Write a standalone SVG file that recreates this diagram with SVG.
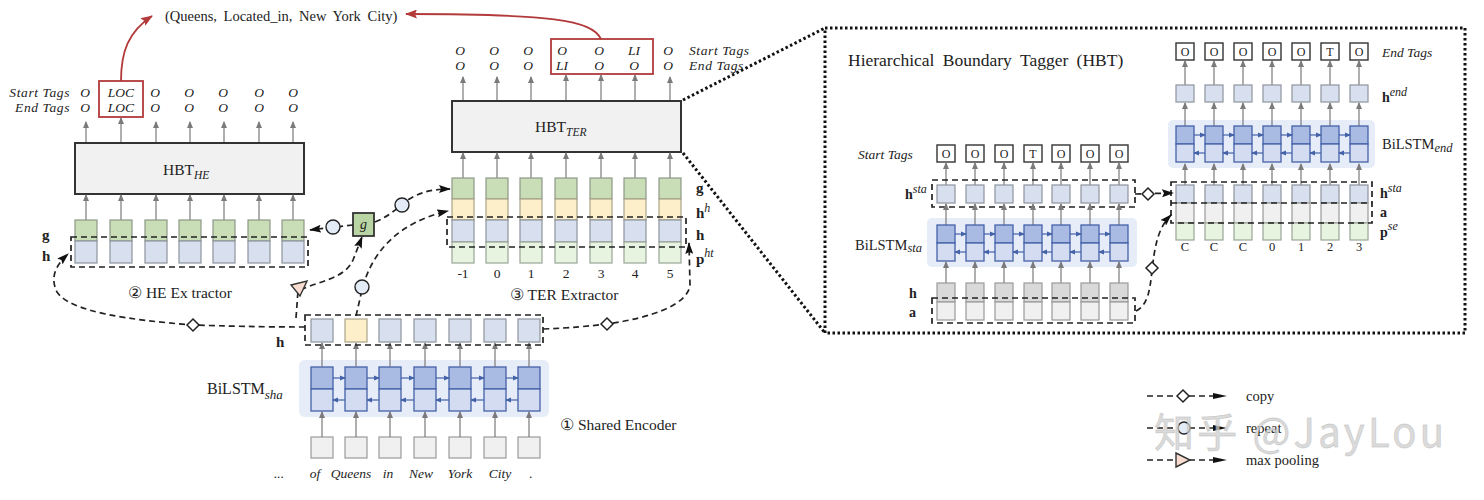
<svg xmlns="http://www.w3.org/2000/svg" width="1484" height="500" viewBox="0 0 1484 500">
<style>
.t{font-family:"Liberation Serif","Times New Roman",serif;fill:#222}
.it{font-style:italic}
.b{font-weight:bold}
.cg{fill:#c9ddb6;stroke:#8e9888;stroke-width:1.2}
.cb{fill:#d8e0f0;stroke:#8e949e;stroke-width:1.2}
.cy{fill:#fcefc9;stroke:#aaa38b;stroke-width:1.2}
.cp{fill:#e7f5e0;stroke:#9aa596;stroke-width:1.2}
.cw{fill:#f0f0f0;stroke:#9a9a9a;stroke-width:1.2}
.cd{fill:#d9d9d9;stroke:#9a9a9a;stroke-width:1.2}
.lt{fill:#a9bbe2;stroke:#4462a8;stroke-width:1.3}
.lb{fill:#d3dcf0;stroke:#4462a8;stroke-width:1.3}
.bg{fill:#e7ecf9}
.ar{stroke:#7a7a7a;stroke-width:1.2;marker-end:url(#ga)}
.la{stroke:#4462a8;stroke-width:1.2;marker-end:url(#ba)}
.dl{fill:none;stroke:#222;stroke-width:1.7;stroke-dasharray:6 4}
.dot{fill:none;stroke:#111;stroke-width:3;stroke-dasharray:2.5 2.5}
.box{fill:#f1f1f1;stroke:#333;stroke-width:2}
.tb{fill:#fff;stroke:#333;stroke-width:1.4}
.red{fill:none;stroke:#b23a3a;stroke-width:1.8}
.dia{fill:#fff;stroke:#222;stroke-width:1.5}
.cir{fill:#e3ebf7;stroke:#222;stroke-width:1.4}
</style>
<defs>
<marker id="ga" markerUnits="userSpaceOnUse" markerWidth="7" markerHeight="6" refX="6" refY="3" orient="auto"><path d="M0,0 L7,3 L0,6 z" fill="#7a7a7a"/></marker>
<marker id="ba" markerUnits="userSpaceOnUse" markerWidth="6" markerHeight="6" refX="5" refY="3" orient="auto"><path d="M0,0.5 L6,3 L0,5.5 z" fill="#4462a8"/></marker>
<marker id="ka" markerUnits="userSpaceOnUse" markerWidth="12" markerHeight="8" refX="11" refY="4" orient="auto"><path d="M0,0 L12,4 L0,8 L2,4 z" fill="#111"/></marker>
<marker id="ra" markerUnits="userSpaceOnUse" markerWidth="12" markerHeight="9" refX="11" refY="4.5" orient="auto"><path d="M0,0 L12,4.5 L0,9 L2,4.5 z" fill="#b23a3a"/></marker>
<g id="lA"><rect class="lt" x="0" y="0" width="22" height="22"/><rect class="lb" x="0" y="22" width="22" height="22"/></g>
<g id="lB"><rect class="lt" x="0" y="0" width="18" height="18"/><rect class="lb" x="0" y="18" width="18" height="18"/></g>
</defs>
<rect width="1484" height="500" fill="#fff"/>

<g id="relation">
<text class="t" x="165" y="21" font-size="14.5" word-spacing="3">(Queens, Located_in, New York City)</text>
</g>

<g id="he-extractor">
<text class="t it" x="70" y="97" font-size="13.5" text-anchor="end" letter-spacing="0.6">Start Tags</text>
<text class="t it" x="70" y="112" font-size="13.5" text-anchor="end" letter-spacing="0.6">End Tags</text>
<g class="t it" font-size="13.5" text-anchor="middle">
<text x="85" y="97">O</text><text x="121" y="97">LOC</text><text x="155" y="97">O</text><text x="189" y="97">O</text><text x="223" y="97">O</text><text x="259" y="97">O</text><text x="293" y="97">O</text>
<text x="85" y="112">O</text><text x="121" y="112">LOC</text><text x="155" y="112">O</text><text x="189" y="112">O</text><text x="223" y="112">O</text><text x="259" y="112">O</text><text x="293" y="112">O</text>
</g>
<rect class="red" x="99" y="81" width="44" height="36"/>
<line class="ar" x1="86" y1="143" x2="86" y2="122"/><line class="ar" x1="121" y1="143" x2="121" y2="118"/><line class="ar" x1="156" y1="143" x2="156" y2="122"/><line class="ar" x1="190" y1="143" x2="190" y2="122"/><line class="ar" x1="224" y1="143" x2="224" y2="122"/><line class="ar" x1="259" y1="143" x2="259" y2="122"/><line class="ar" x1="293" y1="143" x2="293" y2="122"/>
<rect class="box" x="75" y="143" width="229" height="51"/>
<text class="t" x="163" y="175" font-size="15.5">HBT<tspan class="it" font-size="11.5" dy="4">HE</tspan></text>
<line class="ar" x1="86" y1="220" x2="86" y2="195"/><line class="ar" x1="121" y1="220" x2="121" y2="195"/><line class="ar" x1="156" y1="220" x2="156" y2="195"/><line class="ar" x1="190" y1="220" x2="190" y2="195"/><line class="ar" x1="224" y1="220" x2="224" y2="195"/><line class="ar" x1="259" y1="220" x2="259" y2="195"/><line class="ar" x1="293" y1="220" x2="293" y2="195"/>
<rect class="cg" x="75" y="220" width="22" height="21"/><rect class="cb" x="75" y="241" width="22" height="22"/>
<rect class="cg" x="110" y="220" width="22" height="21"/><rect class="cb" x="110" y="241" width="22" height="22"/>
<rect class="cg" x="145" y="220" width="22" height="21"/><rect class="cb" x="145" y="241" width="22" height="22"/>
<rect class="cg" x="179" y="220" width="22" height="21"/><rect class="cb" x="179" y="241" width="22" height="22"/>
<rect class="cg" x="213" y="220" width="22" height="21"/><rect class="cb" x="213" y="241" width="22" height="22"/>
<rect class="cg" x="248" y="220" width="22" height="21"/><rect class="cb" x="248" y="241" width="22" height="22"/>
<rect class="cg" x="282" y="220" width="22" height="21"/><rect class="cb" x="282" y="241" width="22" height="22"/>
<rect class="dl" x="71" y="237" width="237" height="30"/>
<text class="t b" x="42" y="240" font-size="15">g</text>
<text class="t b" x="42" y="261" font-size="15">h</text>
<text class="t" x="128" y="298" font-size="15.5">② HE Ex tractor</text>
</g>

<g id="g-node">
<rect x="353" y="213" width="21" height="23" fill="#b9d5a4" stroke="#333" stroke-width="1.8"/>
<text class="t it" x="363.5" y="229" font-size="14" text-anchor="middle">g</text>
</g>

<g id="ter-extractor">
<g class="t it" font-size="13.5" text-anchor="middle">
<text x="460" y="55">O</text><text x="494" y="55">O</text><text x="528" y="55">O</text><text x="562" y="55">O</text><text x="599" y="55">O</text><text x="634" y="55">LI</text><text x="668" y="55">O</text>
<text x="460" y="70">O</text><text x="494" y="70">O</text><text x="528" y="70">O</text><text x="562" y="70">LI</text><text x="599" y="70">O</text><text x="634" y="70">O</text><text x="668" y="70">O</text>
</g>
<rect class="red" x="551" y="39" width="102" height="35"/>
<text class="t it" x="689" y="55" font-size="13.5" letter-spacing="0.6">Start Tags</text>
<text class="t it" x="689" y="70" font-size="13.5" letter-spacing="0.6">End Tags</text>
<line class="ar" x1="463" y1="101" x2="463" y2="77"/><line class="ar" x1="497" y1="101" x2="497" y2="77"/><line class="ar" x1="531" y1="101" x2="531" y2="77"/><line class="ar" x1="566" y1="101" x2="566" y2="75"/><line class="ar" x1="601" y1="101" x2="601" y2="75"/><line class="ar" x1="635" y1="101" x2="635" y2="75"/><line class="ar" x1="670" y1="101" x2="670" y2="77"/>
<rect class="box" x="452" y="101" width="229" height="51"/>
<text class="t" x="535" y="132" font-size="15.5">HBT<tspan class="it" font-size="11.5" dy="4">TER</tspan></text>
<line class="ar" x1="463" y1="178" x2="463" y2="153"/><line class="ar" x1="497" y1="178" x2="497" y2="153"/><line class="ar" x1="531" y1="178" x2="531" y2="153"/><line class="ar" x1="566" y1="178" x2="566" y2="153"/><line class="ar" x1="601" y1="178" x2="601" y2="153"/><line class="ar" x1="635" y1="178" x2="635" y2="153"/><line class="ar" x1="670" y1="178" x2="670" y2="153"/>
<g>
<rect class="cg" x="452" y="178" width="22" height="21"/><rect class="cy" x="452" y="199" width="22" height="21"/><rect class="cb" x="452" y="220" width="22" height="22"/><rect class="cp" x="452" y="242" width="22" height="21"/>
<rect class="cg" x="486" y="178" width="22" height="21"/><rect class="cy" x="486" y="199" width="22" height="21"/><rect class="cb" x="486" y="220" width="22" height="22"/><rect class="cp" x="486" y="242" width="22" height="21"/>
<rect class="cg" x="520" y="178" width="22" height="21"/><rect class="cy" x="520" y="199" width="22" height="21"/><rect class="cb" x="520" y="220" width="22" height="22"/><rect class="cp" x="520" y="242" width="22" height="21"/>
<rect class="cg" x="555" y="178" width="22" height="21"/><rect class="cy" x="555" y="199" width="22" height="21"/><rect class="cb" x="555" y="220" width="22" height="22"/><rect class="cp" x="555" y="242" width="22" height="21"/>
<rect class="cg" x="590" y="178" width="22" height="21"/><rect class="cy" x="590" y="199" width="22" height="21"/><rect class="cb" x="590" y="220" width="22" height="22"/><rect class="cp" x="590" y="242" width="22" height="21"/>
<rect class="cg" x="624" y="178" width="22" height="21"/><rect class="cy" x="624" y="199" width="22" height="21"/><rect class="cb" x="624" y="220" width="22" height="22"/><rect class="cp" x="624" y="242" width="22" height="21"/>
<rect class="cg" x="659" y="178" width="22" height="21"/><rect class="cy" x="659" y="199" width="22" height="21"/><rect class="cb" x="659" y="220" width="22" height="22"/><rect class="cp" x="659" y="242" width="22" height="21"/>
</g>
<rect class="dl" x="447" y="217" width="239" height="30"/>
<text class="t b" x="696" y="193" font-size="15">g</text>
<text class="t b" x="696" y="218" font-size="15">h<tspan class="it" font-weight="normal" font-size="12" dy="-6">h</tspan></text>
<text class="t b" x="696" y="240" font-size="15">h</text>
<text class="t b" x="696" y="264" font-size="15">p<tspan class="it" font-weight="normal" font-size="12" dy="-7">ht</tspan></text>
<g class="t" font-size="13.5" text-anchor="middle">
<text x="463" y="278">-1</text><text x="497" y="278">0</text><text x="531" y="278">1</text><text x="566" y="278">2</text><text x="601" y="278">3</text><text x="635" y="278">4</text><text x="670" y="278">5</text>
</g>
<text class="t" x="510" y="300" font-size="15.5">③ TER Extractor</text>
</g>

<g id="shared-encoder">
<rect class="bg" x="299" y="360" width="250" height="57" rx="6"/>
<rect class="cw" x="311" y="437" width="22" height="21"/><rect class="cw" x="345" y="437" width="22" height="21"/><rect class="cw" x="379" y="437" width="22" height="21"/><rect class="cw" x="414" y="437" width="22" height="21"/><rect class="cw" x="449" y="437" width="22" height="21"/><rect class="cw" x="484" y="437" width="22" height="21"/><rect class="cw" x="518" y="437" width="22" height="21"/>
<line class="ar" x1="322" y1="437" x2="322" y2="412"/><line class="ar" x1="356" y1="437" x2="356" y2="412"/><line class="ar" x1="390" y1="437" x2="390" y2="412"/><line class="ar" x1="425" y1="437" x2="425" y2="412"/><line class="ar" x1="460" y1="437" x2="460" y2="412"/><line class="ar" x1="495" y1="437" x2="495" y2="412"/><line class="ar" x1="529" y1="437" x2="529" y2="412"/>
<use href="#lA" x="311" y="367"/><use href="#lA" x="345" y="367"/><use href="#lA" x="379" y="367"/><use href="#lA" x="414" y="367"/><use href="#lA" x="449" y="367"/><use href="#lA" x="484" y="367"/><use href="#lA" x="518" y="367"/>
<line class="la" x1="333" y1="378" x2="345" y2="378"/><line class="la" x1="367" y1="378" x2="379" y2="378"/><line class="la" x1="401" y1="378" x2="414" y2="378"/><line class="la" x1="436" y1="378" x2="449" y2="378"/><line class="la" x1="471" y1="378" x2="484" y2="378"/><line class="la" x1="506" y1="378" x2="518" y2="378"/>
<line class="la" x1="345" y1="400" x2="333" y2="400"/><line class="la" x1="379" y1="400" x2="367" y2="400"/><line class="la" x1="414" y1="400" x2="401" y2="400"/><line class="la" x1="449" y1="400" x2="436" y2="400"/><line class="la" x1="484" y1="400" x2="471" y2="400"/><line class="la" x1="518" y1="400" x2="506" y2="400"/>
<line class="ar" x1="322" y1="367" x2="322" y2="343"/><line class="ar" x1="356" y1="367" x2="356" y2="343"/><line class="ar" x1="390" y1="367" x2="390" y2="343"/><line class="ar" x1="425" y1="367" x2="425" y2="343"/><line class="ar" x1="460" y1="367" x2="460" y2="343"/><line class="ar" x1="495" y1="367" x2="495" y2="343"/><line class="ar" x1="529" y1="367" x2="529" y2="343"/>
<rect class="cb" x="311" y="319" width="22" height="23"/><rect class="cy" x="345" y="319" width="22" height="23"/><rect class="cb" x="379" y="319" width="22" height="23"/><rect class="cb" x="414" y="319" width="22" height="23"/><rect class="cb" x="449" y="319" width="22" height="23"/><rect class="cb" x="484" y="319" width="22" height="23"/><rect class="cb" x="518" y="319" width="22" height="23"/>
<rect class="dl" x="305" y="315" width="238" height="30"/>
<text class="t b" x="276" y="347" font-size="15">h</text>
<text class="t" x="207" y="394" font-size="16">BiLSTM<tspan class="it" font-size="13" dy="5">sha</tspan></text>
<g class="t it" font-size="13.5" text-anchor="middle">
<text x="279" y="478">...</text><text x="315" y="478">of</text><text x="351" y="478">Queens</text><text x="388" y="478">in</text><text x="421" y="478">New</text><text x="460" y="478">York</text><text x="500" y="478">City</text><text x="531" y="478">.</text>
</g>
<text class="t" x="560" y="430" font-size="15.5">① Shared Encoder</text>
</g>

<g id="hbt-inset">
<rect class="dot" x="825" y="28" width="640" height="305"/>
<text class="t" x="848" y="66" font-size="17.5" word-spacing="4">Hierarchical Boundary Tagger (HBT)</text>
</g>

<g id="hbt-start">
<text class="t it" x="858" y="159" font-size="13.5">Start Tags</text>
<g class="t" font-size="12" text-anchor="middle">
<rect class="tb" x="937" y="145" width="18" height="17"/><text x="946" y="158">O</text>
<rect class="tb" x="966" y="145" width="18" height="17"/><text x="975" y="158">O</text>
<rect class="tb" x="995" y="145" width="18" height="17"/><text x="1004" y="158">O</text>
<rect class="tb" x="1024" y="145" width="18" height="17"/><text x="1033" y="158">T</text>
<rect class="tb" x="1052" y="145" width="18" height="17"/><text x="1061" y="158">O</text>
<rect class="tb" x="1081" y="145" width="18" height="17"/><text x="1090" y="158">O</text>
<rect class="tb" x="1110" y="145" width="18" height="17"/><text x="1119" y="158">O</text>
</g>
<line class="ar" x1="946" y1="185" x2="946" y2="163"/><line class="ar" x1="975" y1="185" x2="975" y2="163"/><line class="ar" x1="1004" y1="185" x2="1004" y2="163"/><line class="ar" x1="1033" y1="185" x2="1033" y2="163"/><line class="ar" x1="1061" y1="185" x2="1061" y2="163"/><line class="ar" x1="1090" y1="185" x2="1090" y2="163"/><line class="ar" x1="1119" y1="185" x2="1119" y2="163"/>
<rect class="cb" x="937" y="185" width="18" height="18"/><rect class="cb" x="966" y="185" width="18" height="18"/><rect class="cb" x="995" y="185" width="18" height="18"/><rect class="cb" x="1024" y="185" width="18" height="18"/><rect class="cb" x="1052" y="185" width="18" height="18"/><rect class="cb" x="1081" y="185" width="18" height="18"/><rect class="cb" x="1110" y="185" width="18" height="18"/>
<rect class="dl" x="932" y="180" width="203" height="27"/>
<text class="t b" x="905" y="199" font-size="14">h<tspan class="it" font-weight="normal" font-size="12" dy="-6">sta</tspan></text>
<rect class="bg" x="927" y="218" width="210" height="49" rx="5"/>
<line class="ar" x1="946" y1="225" x2="946" y2="204"/><line class="ar" x1="975" y1="225" x2="975" y2="204"/><line class="ar" x1="1004" y1="225" x2="1004" y2="204"/><line class="ar" x1="1033" y1="225" x2="1033" y2="204"/><line class="ar" x1="1061" y1="225" x2="1061" y2="204"/><line class="ar" x1="1090" y1="225" x2="1090" y2="204"/><line class="ar" x1="1119" y1="225" x2="1119" y2="204"/>
<use href="#lB" x="937" y="225"/><use href="#lB" x="966" y="225"/><use href="#lB" x="995" y="225"/><use href="#lB" x="1024" y="225"/><use href="#lB" x="1052" y="225"/><use href="#lB" x="1081" y="225"/><use href="#lB" x="1110" y="225"/>
<line class="la" x1="955" y1="234" x2="966" y2="234"/><line class="la" x1="984" y1="234" x2="995" y2="234"/><line class="la" x1="1013" y1="234" x2="1024" y2="234"/><line class="la" x1="1042" y1="234" x2="1052" y2="234"/><line class="la" x1="1070" y1="234" x2="1081" y2="234"/><line class="la" x1="1099" y1="234" x2="1110" y2="234"/>
<line class="la" x1="966" y1="252" x2="955" y2="252"/><line class="la" x1="995" y1="252" x2="984" y2="252"/><line class="la" x1="1024" y1="252" x2="1013" y2="252"/><line class="la" x1="1052" y1="252" x2="1042" y2="252"/><line class="la" x1="1081" y1="252" x2="1070" y2="252"/><line class="la" x1="1110" y1="252" x2="1099" y2="252"/>
<text class="t" x="855" y="250" font-size="14.5">BiLSTM<tspan class="it" font-size="12.5" dy="2">sta</tspan></text>
<line class="ar" x1="946" y1="283" x2="946" y2="262"/><line class="ar" x1="975" y1="283" x2="975" y2="262"/><line class="ar" x1="1004" y1="283" x2="1004" y2="262"/><line class="ar" x1="1033" y1="283" x2="1033" y2="262"/><line class="ar" x1="1061" y1="283" x2="1061" y2="262"/><line class="ar" x1="1090" y1="283" x2="1090" y2="262"/><line class="ar" x1="1119" y1="283" x2="1119" y2="262"/>
<g>
<rect class="cd" x="937" y="283" width="18" height="19"/><rect class="cw" x="937" y="302" width="18" height="18"/>
<rect class="cd" x="966" y="283" width="18" height="19"/><rect class="cw" x="966" y="302" width="18" height="18"/>
<rect class="cd" x="995" y="283" width="18" height="19"/><rect class="cw" x="995" y="302" width="18" height="18"/>
<rect class="cd" x="1024" y="283" width="18" height="19"/><rect class="cw" x="1024" y="302" width="18" height="18"/>
<rect class="cd" x="1052" y="283" width="18" height="19"/><rect class="cw" x="1052" y="302" width="18" height="18"/>
<rect class="cd" x="1081" y="283" width="18" height="19"/><rect class="cw" x="1081" y="302" width="18" height="18"/>
<rect class="cd" x="1110" y="283" width="18" height="19"/><rect class="cw" x="1110" y="302" width="18" height="18"/>
</g>
<rect class="dl" x="932" y="298" width="203" height="25"/>
<text class="t b" x="909" y="298" font-size="14">h</text>
<text class="t b" x="909" y="317" font-size="14">a</text>
</g>

<g id="hbt-end">
<g class="t" font-size="12" text-anchor="middle">
<rect class="tb" x="1176" y="43" width="18" height="17"/><text x="1185" y="56">O</text>
<rect class="tb" x="1205" y="43" width="18" height="17"/><text x="1214" y="56">O</text>
<rect class="tb" x="1234" y="43" width="18" height="17"/><text x="1243" y="56">O</text>
<rect class="tb" x="1263" y="43" width="18" height="17"/><text x="1272" y="56">O</text>
<rect class="tb" x="1292" y="43" width="18" height="17"/><text x="1301" y="56">O</text>
<rect class="tb" x="1321" y="43" width="18" height="17"/><text x="1330" y="56">T</text>
<rect class="tb" x="1350" y="43" width="18" height="17"/><text x="1359" y="56">O</text>
</g>
<text class="t it" x="1382" y="57" font-size="13.5">End Tags</text>
<line class="ar" x1="1185" y1="85" x2="1185" y2="61"/><line class="ar" x1="1214" y1="85" x2="1214" y2="61"/><line class="ar" x1="1243" y1="85" x2="1243" y2="61"/><line class="ar" x1="1272" y1="85" x2="1272" y2="61"/><line class="ar" x1="1301" y1="85" x2="1301" y2="61"/><line class="ar" x1="1330" y1="85" x2="1330" y2="61"/><line class="ar" x1="1359" y1="85" x2="1359" y2="61"/>
<rect class="cb" x="1176" y="85" width="18" height="17"/><rect class="cb" x="1205" y="85" width="18" height="17"/><rect class="cb" x="1234" y="85" width="18" height="17"/><rect class="cb" x="1263" y="85" width="18" height="17"/><rect class="cb" x="1292" y="85" width="18" height="17"/><rect class="cb" x="1321" y="85" width="18" height="17"/><rect class="cb" x="1350" y="85" width="18" height="17"/>
<text class="t b" x="1382" y="102" font-size="14">h<tspan class="it" font-weight="normal" font-size="12" dy="-6">end</tspan></text>
<rect class="bg" x="1168" y="120" width="207" height="48" rx="5"/>
<line class="ar" x1="1185" y1="126" x2="1185" y2="103"/><line class="ar" x1="1214" y1="126" x2="1214" y2="103"/><line class="ar" x1="1243" y1="126" x2="1243" y2="103"/><line class="ar" x1="1272" y1="126" x2="1272" y2="103"/><line class="ar" x1="1301" y1="126" x2="1301" y2="103"/><line class="ar" x1="1330" y1="126" x2="1330" y2="103"/><line class="ar" x1="1359" y1="126" x2="1359" y2="103"/>
<use href="#lB" x="1176" y="126"/><use href="#lB" x="1205" y="126"/><use href="#lB" x="1234" y="126"/><use href="#lB" x="1263" y="126"/><use href="#lB" x="1292" y="126"/><use href="#lB" x="1321" y="126"/><use href="#lB" x="1350" y="126"/>
<line class="la" x1="1194" y1="135" x2="1205" y2="135"/><line class="la" x1="1223" y1="135" x2="1234" y2="135"/><line class="la" x1="1252" y1="135" x2="1263" y2="135"/><line class="la" x1="1281" y1="135" x2="1292" y2="135"/><line class="la" x1="1310" y1="135" x2="1321" y2="135"/><line class="la" x1="1339" y1="135" x2="1350" y2="135"/>
<line class="la" x1="1205" y1="153" x2="1194" y2="153"/><line class="la" x1="1234" y1="153" x2="1223" y2="153"/><line class="la" x1="1263" y1="153" x2="1252" y2="153"/><line class="la" x1="1292" y1="153" x2="1281" y2="153"/><line class="la" x1="1321" y1="153" x2="1310" y2="153"/><line class="la" x1="1350" y1="153" x2="1339" y2="153"/>
<text class="t" x="1382" y="149" font-size="14.5">BiLSTM<tspan class="it" font-size="12.5" dy="3">end</tspan></text>
<line class="ar" x1="1185" y1="185" x2="1185" y2="164"/><line class="ar" x1="1214" y1="185" x2="1214" y2="164"/><line class="ar" x1="1243" y1="185" x2="1243" y2="164"/><line class="ar" x1="1272" y1="185" x2="1272" y2="164"/><line class="ar" x1="1301" y1="185" x2="1301" y2="164"/><line class="ar" x1="1330" y1="185" x2="1330" y2="164"/><line class="ar" x1="1359" y1="185" x2="1359" y2="164"/>
<g>
<rect class="cb" x="1176" y="185" width="18" height="18"/><rect class="cw" x="1176" y="203" width="18" height="20"/><rect class="cp" x="1176" y="223" width="18" height="17"/>
<rect class="cb" x="1205" y="185" width="18" height="18"/><rect class="cw" x="1205" y="203" width="18" height="20"/><rect class="cp" x="1205" y="223" width="18" height="17"/>
<rect class="cb" x="1234" y="185" width="18" height="18"/><rect class="cw" x="1234" y="203" width="18" height="20"/><rect class="cp" x="1234" y="223" width="18" height="17"/>
<rect class="cb" x="1263" y="185" width="18" height="18"/><rect class="cw" x="1263" y="203" width="18" height="20"/><rect class="cp" x="1263" y="223" width="18" height="17"/>
<rect class="cb" x="1292" y="185" width="18" height="18"/><rect class="cw" x="1292" y="203" width="18" height="20"/><rect class="cp" x="1292" y="223" width="18" height="17"/>
<rect class="cb" x="1321" y="185" width="18" height="18"/><rect class="cw" x="1321" y="203" width="18" height="20"/><rect class="cp" x="1321" y="223" width="18" height="17"/>
<rect class="cb" x="1350" y="185" width="18" height="18"/><rect class="cw" x="1350" y="203" width="18" height="20"/><rect class="cp" x="1350" y="223" width="18" height="17"/>
</g>
<rect class="dl" x="1171" y="182" width="201" height="41"/>
<line class="dl" x1="1171" y1="203" x2="1372" y2="203"/>
<text class="t b" x="1380" y="198" font-size="14">h<tspan class="it" font-weight="normal" font-size="12" dy="-6">sta</tspan></text>
<text class="t b" x="1380" y="217" font-size="14">a</text>
<text class="t b" x="1380" y="237" font-size="14">p<tspan class="it" font-weight="normal" font-size="12" dy="-7">se</tspan></text>
<g class="t" font-size="12.5" text-anchor="middle">
<text x="1185" y="251">C</text><text x="1214" y="251">C</text><text x="1243" y="251">C</text><text x="1272" y="251">0</text><text x="1301" y="251">1</text><text x="1330" y="251">2</text><text x="1359" y="251">3</text>
</g>
</g>

<g id="connectors">
<path class="red" d="M121,81 C121,52 128,32 152,16" marker-end="url(#ra)"/>
<path class="red" d="M601,39 C592,20 550,14 406,14" marker-end="url(#ra)"/>
<line class="dot" x1="683" y1="100" x2="825" y2="28"/>
<line class="dot" x1="683" y1="153" x2="825" y2="333"/>
<path class="dl" d="M305,327 C260,327 225,326 193,325 C130,320 70,312 57,292 C50,278 55,266 68,254" marker-end="url(#ka)"/>
<path class="dl" d="M543,329 C570,328 590,326 607,324 C650,318 688,305 690,285 L689,243" marker-end="url(#ka)"/>
<path class="dl" d="M296,318 L298,291 C318,281 345,279 353,260 L362,237" marker-end="url(#ka)"/>
<path class="dl" d="M356,316 L362,290 C372,250 400,222 448,211" marker-end="url(#ka)"/>
<path class="dl" d="M353,225 L310,230" marker-end="url(#ka)"/>
<path class="dl" d="M375,222 C385,218 393,212 400,206 C415,193 430,189 450,189" marker-end="url(#ka)"/>
<path class="dl" d="M1135,194 L1173,193" marker-end="url(#ka)"/>
<path class="dl" d="M1136,311 C1148,305 1150,290 1152,270 C1155,245 1158,228 1171,215" marker-end="url(#ka)"/>
<polygon class="dia" points="193,319 199,325 193,331 187,325"/>
<polygon class="dia" points="607,318 613,324 607,330 601,324"/>
<polygon class="dia" points="1148,188 1154,194 1148,200 1142,194"/>
<polygon class="dia" points="1152,262 1158,268 1152,274 1146,268"/>
<circle class="cir" cx="333" cy="227" r="7"/>
<circle class="cir" cx="402" cy="205" r="7"/>
<circle class="cir" cx="362" cy="287" r="7"/>
<polygon points="291,285 307,281 300,296" fill="#f8dccf" stroke="#333" stroke-width="1.4"/>
</g>

<g id="legend">
<path class="dl" d="M1147,396 L1177,396 M1189,396 L1214,396" stroke-dasharray="5 3"/>
<path d="M1213,393 L1227,396 L1213,399 z" fill="#111"/>
<polygon class="dia" points="1183,390 1189,396 1183,402 1177,396"/>
<text class="t" x="1246" y="401" font-size="14.5">copy</text>
<path class="dl" d="M1147,428 L1177,428 M1189,428 L1214,428" stroke-dasharray="5 3"/>
<path d="M1213,425 L1227,428 L1213,431 z" fill="#111"/>
<circle class="cir" cx="1184" cy="428" r="6"/>
<text class="t" x="1246" y="433" font-size="14.5">repeat</text>
<path class="dl" d="M1147,460 L1177,460 M1189,460 L1214,460" stroke-dasharray="5 3"/>
<path d="M1213,457 L1227,460 L1213,463 z" fill="#111"/>
<polygon points="1176,453 1190,460 1176,467" fill="#f8dccf" stroke="#333" stroke-width="1.4"/>
<text class="t" x="1246" y="465" font-size="14.5">max pooling</text>
</g>

<g id="watermark">
<text x="1154" y="447" font-family="'Noto Sans CJK SC','Noto Sans',sans-serif" font-size="40" fill="#cfcfcf" fill-opacity="0.75" stroke="#b5b5b5" stroke-opacity="0.5" stroke-width="0.8" textLength="290">知乎 @JayLou</text>
</g>
</svg>
